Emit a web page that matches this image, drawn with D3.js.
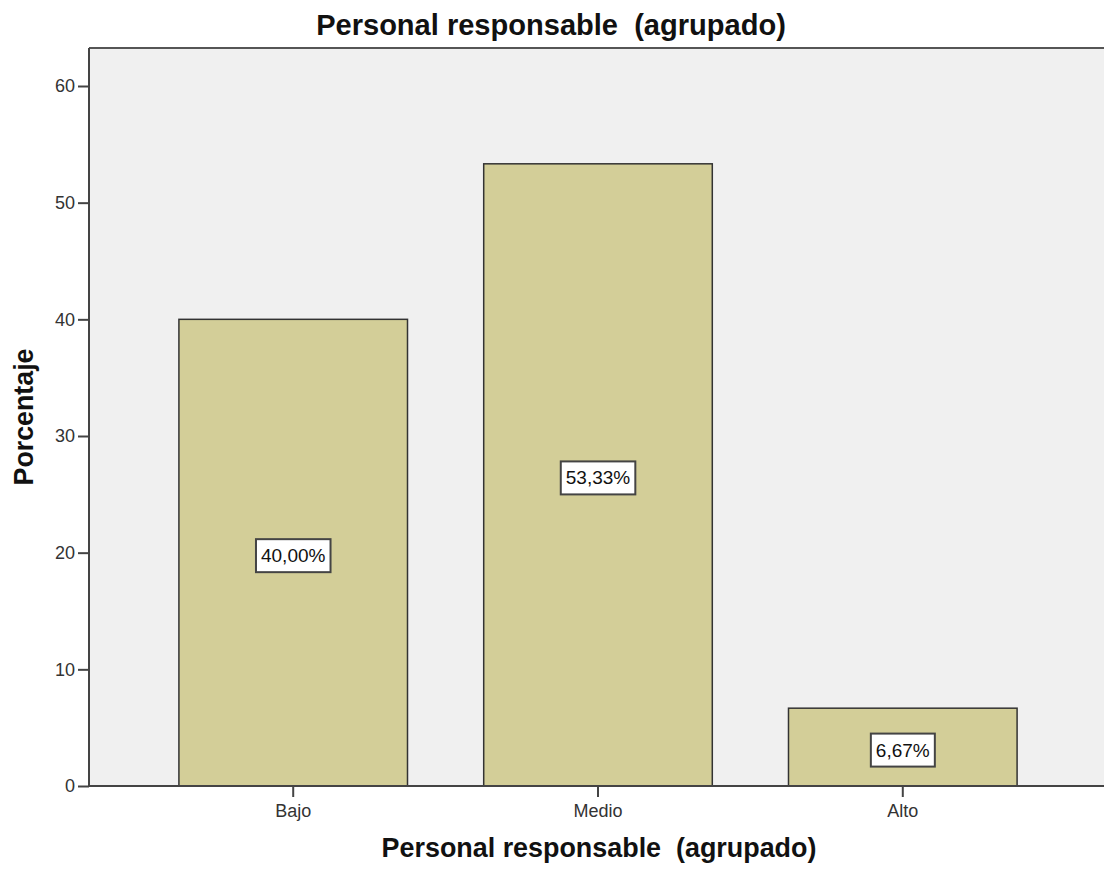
<!DOCTYPE html>
<html><head><meta charset="utf-8">
<script src="https://cdn.jsdelivr.net/npm/d3@7"></script>
<style>body{margin:0;background:#fff;}svg{display:block;font-family:Arial,"Liberation Sans",sans-serif;}text{white-space:pre;}</style>
</head><body>
<svg id="c" width="1104" height="870"></svg>
<script>
const categories = ["Bajo", "Medio", "Alto"];
const values = [40.00, 53.33, 6.67];
const labels = ["40,00%", "53,33%", "6,67%"];
const yTicks = [0, 10, 20, 30, 40, 50, 60];
const title = "Personal responsable  (agrupado)";
const xTitle = "Personal responsable  (agrupado)";
const yTitle = "Porcentaje";

const svg = d3.select("#c");
const L = 89, T = 48, R = 1107, B = 786;
const x = d3.scaleBand().domain(categories).range([L, R]).paddingInner(0.25).paddingOuter(0.295);
const y = d3.scaleLinear().domain([0, 60]).range([B, 86]);

svg.append("rect").attr("x", L).attr("y", T).attr("width", 1104 - L).attr("height", B - T).attr("fill", "#f0f0f0");
svg.append("line").attr("x1", L).attr("x2", 1104).attr("y1", T).attr("y2", T).attr("stroke", "#555").attr("stroke-width", 2);

const g = svg.append("g");
g.selectAll("rect.bar").data(values).join("rect").attr("class", "bar")
  .attr("x", (d, i) => x(categories[i])).attr("width", x.bandwidth())
  .attr("y", d => y(d)).attr("height", d => B - y(d))
  .attr("fill", "#d3ce98").attr("stroke", "#333").attr("stroke-width", 1.5);

// axes
const ya = svg.append("g").attr("transform", `translate(${L},0)`)
  .call(d3.axisLeft(y).tickValues(yTicks).tickSize(11).tickPadding(3));
const xa = svg.append("g").attr("transform", `translate(0,${B})`)
  .call(d3.axisBottom(x).tickSize(11).tickPadding(7));
[ya, xa].forEach(a => {
  a.select(".domain").attr("stroke", "#444").attr("stroke-width", 2);
  a.selectAll(".tick line").attr("stroke", "#444").attr("stroke-width", 2);
  a.selectAll(".tick text").attr("fill", "#333").style("font-size", "18px").style("font-family", "Arial, 'Liberation Sans', sans-serif");
});
xa.select(".domain").attr("d", `M${L},0H1104`);
ya.select(".domain").attr("d", `M0,${T}V${B}`);

// value labels
values.forEach((v, i) => {
  const cx = x(categories[i]) + x.bandwidth() / 2;
  const cy = (y(v) + B) / 2 + 3;
  const lg = svg.append("g");
  const box = lg.append("rect");
  const t = lg.append("text").attr("x", cx).attr("y", cy).attr("text-anchor", "middle")
    .attr("dominant-baseline", "central").style("font-size", "19px").attr("fill", "#111").text(labels[i]);
  const bb = t.node().getBBox();
  box.attr("x", bb.x - 5).attr("y", cy - 16.5).attr("width", bb.width + 10).attr("height", 33)
    .attr("fill", "#fff").attr("stroke", "#444").attr("stroke-width", 2);
});

function fit(sel, target) {
  const w = sel.node().getComputedTextLength();
  const fs = parseFloat(sel.style("font-size"));
  sel.style("font-size", (fs * target / w) + "px");
}
const tt = svg.append("text").attr("x", 551).attr("y", 35).attr("text-anchor", "middle")
  .style("font-size", "28px").style("font-weight", "bold").attr("fill", "#111").text(title);
fit(tt, 470);
const xt = svg.append("text").attr("x", 599).attr("y", 857).attr("text-anchor", "middle")
  .style("font-size", "27px").style("font-weight", "bold").attr("fill", "#111").text(xTitle);
fit(xt, 435);
const yt = svg.append("text").attr("transform", "translate(33,417) rotate(-90)").attr("text-anchor", "middle")
  .style("font-size", "26px").style("font-weight", "bold").attr("fill", "#111").text(yTitle);
fit(yt, 137);
</script>
</body></html>
